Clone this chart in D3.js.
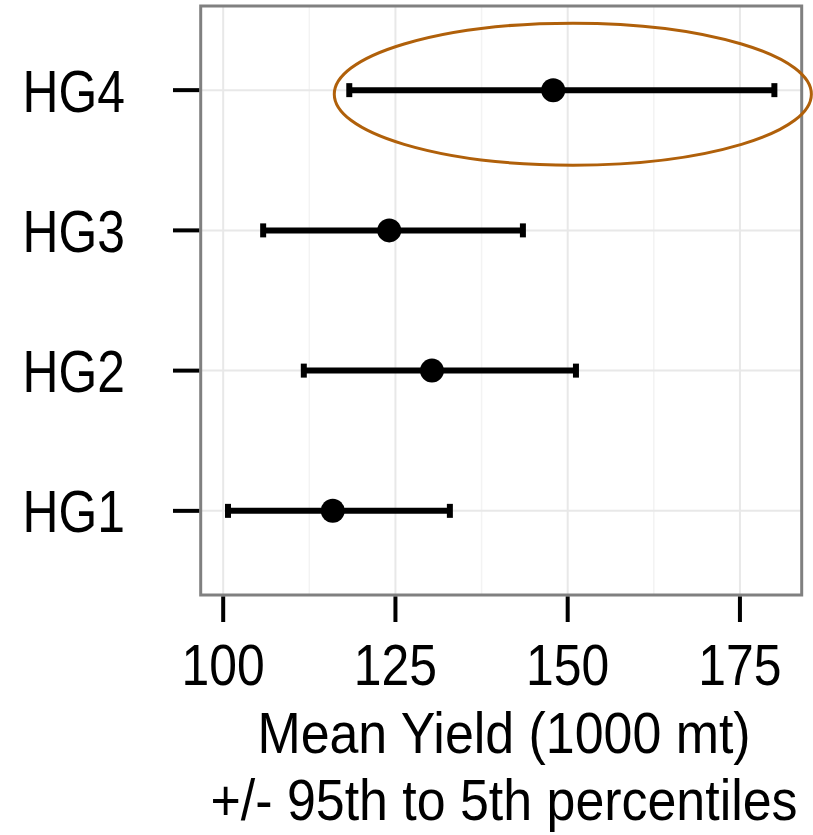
<!DOCTYPE html>
<meta charset="utf-8">
<script src="https://d3js.org/d3.v7.min.js"></script>
<style>
  body { margin: 0; background: #fff; }
  text { font-family: "Liberation Sans", Arial, sans-serif; fill: #000; }
</style>
<svg id="chart" width="813" height="835"></svg>
<script>

// data
var groups = ["HG1", "HG2", "HG3", "HG4"];
var meanYield = [115.9, 130.3, 124.1, 147.9];
var low5 = [100.7, 111.7, 105.8, 118.3];
var high95 = [132.9, 151.2, 143.5, 180.0];
var xTicks = [100, 125, 150, 175];
var xMinor = [112.5, 137.5, 162.5];
var xTitle = ["Mean Yield (1000 mt)", "+/- 95th to 5th percentiles"];
var highlight = "HG4";

var svg = d3.select("#chart");
var panel = { left: 200.7, right: 801.7, top: 6, bottom: 595 };

// ggplot style 5% expansion
var lo = d3.min(low5), hi = d3.max(high95), pad = (hi - lo) * 0.05;
var x = d3.scaleLinear().domain([lo - pad, hi + pad]).range([panel.left, panel.right]);
var y = d3.scalePoint().domain(groups).range([panel.bottom, panel.top]).padding(0.6);

// condensed text: squeeze horizontally
function narrowText(sel, sx) {
  sel.each(function() {
    var t = d3.select(this);
    var tx = +t.attr("x"), ty = +t.attr("y");
    t.attr("x", 0).attr("y", 0)
      .attr("transform", "translate(" + tx + "," + ty + ") scale(" + sx + ",1)");
  });
}

// grid
var grid = svg.append("g");
grid.selectAll(".minor").data(xMinor).enter().append("line")
  .attr("x1", d => x(d)).attr("x2", d => x(d))
  .attr("y1", panel.top).attr("y2", panel.bottom)
  .attr("stroke", "#f3f3f3").attr("stroke-width", 1.5);
grid.selectAll(".major").data(xTicks).enter().append("line")
  .attr("x1", d => x(d)).attr("x2", d => x(d))
  .attr("y1", panel.top).attr("y2", panel.bottom)
  .attr("stroke", "#e8e8e8").attr("stroke-width", 2);
grid.selectAll(".ymajor").data(groups).enter().append("line")
  .attr("x1", panel.left).attr("x2", panel.right)
  .attr("y1", d => y(d)).attr("y2", d => y(d))
  .attr("stroke", "#e8e8e8").attr("stroke-width", 2);

// error bars
var rows = groups.map((g, i) => ({ g: g, m: meanYield[i], lo: low5[i], hi: high95[i] }));
var bars = svg.append("g").selectAll("g").data(rows).enter().append("g");
bars.append("line")
  .attr("x1", d => x(d.lo)).attr("x2", d => x(d.hi))
  .attr("y1", d => y(d.g)).attr("y2", d => y(d.g))
  .attr("stroke", "#000").attr("stroke-width", 6);
bars.selectAll(".cap").data(d => [d.lo, d.hi].map(v => ({ v: v, g: d.g }))).enter().append("line")
  .attr("x1", d => x(d.v)).attr("x2", d => x(d.v))
  .attr("y1", d => y(d.g) - 7).attr("y2", d => y(d.g) + 7)
  .attr("stroke", "#000").attr("stroke-width", 6);
bars.append("circle")
  .attr("cx", d => x(d.m)).attr("cy", d => y(d.g))
  .attr("r", 12).attr("fill", "#000");

// panel border
svg.append("rect")
  .attr("x", panel.left).attr("y", panel.top)
  .attr("width", panel.right - panel.left).attr("height", panel.bottom - panel.top)
  .attr("fill", "none").attr("stroke", "#808080").attr("stroke-width", 3);

// x axis
var xAxis = svg.append("g");
xAxis.selectAll("line").data(xTicks).enter().append("line")
  .attr("x1", d => x(d)).attr("x2", d => x(d))
  .attr("y1", panel.bottom + 1.5).attr("y2", panel.bottom + 27)
  .attr("stroke", "#000").attr("stroke-width", 4);
xAxis.selectAll("text").data(xTicks).enter().append("text")
  .attr("x", d => x(d)).attr("y", 685)
  .attr("text-anchor", "middle").attr("font-size", 58)
  .text(d => d)
  .call(narrowText, 0.86);

// y axis
var yAxis = svg.append("g");
yAxis.selectAll("line").data(groups).enter().append("line")
  .attr("x1", 173).attr("x2", panel.left - 1.5)
  .attr("y1", d => y(d)).attr("y2", d => y(d))
  .attr("stroke", "#000").attr("stroke-width", 4);
yAxis.selectAll("text").data(groups).enter().append("text")
  .attr("x", 125).attr("y", d => y(d) + 21.5)
  .attr("text-anchor", "end").attr("font-size", 60)
  .text(d => d)
  .call(narrowText, 0.83);

// axis title
svg.selectAll(".xtitle").data(xTitle).enter().append("text")
  .attr("x", 504).attr("y", (d, i) => 753 + i * 67)
  .attr("text-anchor", "middle").attr("font-size", 58)
  .text(d => d)
  .call(narrowText, 0.895);

// highlight ellipse around HG4
var h = rows.find(d => d.g === highlight);
svg.append("ellipse")
  .attr("cx", x((h.lo + h.hi) / 2) + 11).attr("cy", y(h.g) + 4)
  .attr("rx", (x(h.hi) - x(h.lo)) / 2 + 26).attr("ry", 71)
  .attr("fill", "none").attr("stroke", "#b0600a").attr("stroke-width", 3);

</script>
